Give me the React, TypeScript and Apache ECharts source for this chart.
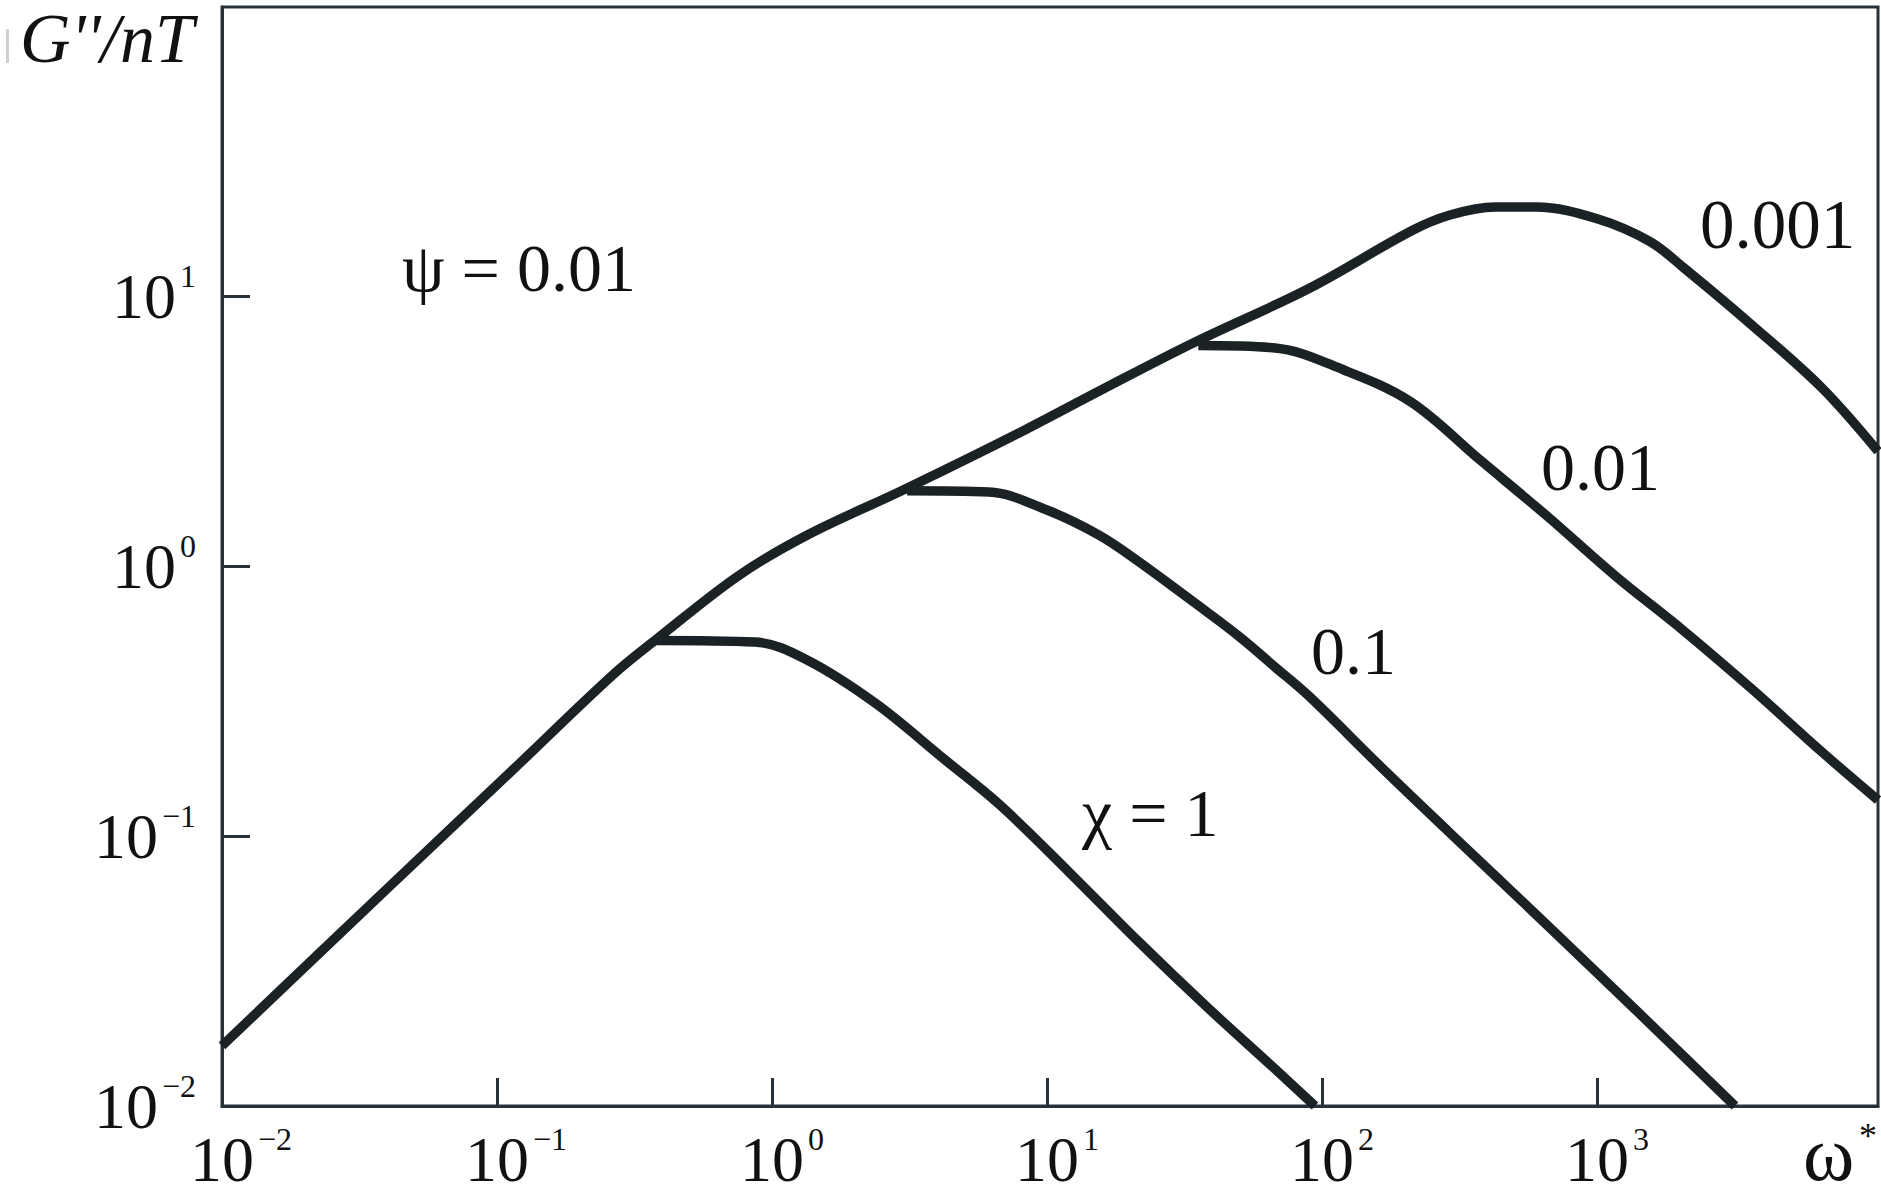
import React, { useEffect, useRef } from 'react';
import * as echarts from 'echarts';

// ---- data (omega*, G''/nT) ----
// envelope + chi = 0.001 curve
const omegaChi0001 = [0.01, 0.0398, 0.119, 0.266, 0.385, 0.752, 1.34, 3.0, 7.52, 16.0, 34.0, 90.4, 211, 292, 426, 600, 1008, 1559, 2072, 3693, 6579, 10515];
const gChi0001 = [0.0167, 0.0637, 0.183, 0.398, 0.541, 0.918, 1.3, 1.912, 3.03, 4.524, 6.697, 10.71, 17.41, 19.95, 21.36, 21.36, 19.28, 15.9, 12.7, 7.74, 4.564, 2.66];

// chi = 0.01 branch
const omegaChi001 = [35.5, 67.5, 120.2, 210.7, 375.5, 658, 1168, 2072, 3693, 6579, 10515];
const gChi001 = [6.55, 6.418, 5.319, 4.05, 2.47, 1.532, 0.918, 0.5743, 0.3473, 0.2047, 0.1359];

// chi = 0.1 branch
const omegaChi01 = [3.1, 6.153, 10.0, 15.46, 21.42, 38.18, 50.75, 67.5, 90.4, 161.2, 287.2, 658, 1433, 3176];
const gChi01 = [1.9, 1.879, 1.612, 1.302, 1.043, 0.6756, 0.5412, 0.4225, 0.3271, 0.1832, 0.1043, 0.04682, 0.02191, 0.01];

// chi = 1 branch
const omegaChi1 = [0.38, 0.867, 1.341, 2.369, 4.222, 6.747, 12.02, 21.42, 38.18, 67.5, 94.3];
const gChi1 = [0.53, 0.523, 0.4487, 0.311, 0.1928, 0.1302, 0.07356, 0.04084, 0.02326, 0.01371, 0.01];

const curveLabels = ['0.001', '0.01', '0.1', 'χ = 1'];
const paramLabel = 'ψ = 0.01';
const yAxisTitle = "G''/nT";
const xAxisTitle = 'ω';

// plotted ranges (frame) and labelled tick ranges
const X_MIN = 0.01;
const X_MAX = 10515;
const Y_MIN = 0.01;
const Y_MAX = 117.6;
const X_TICK_MAX = 1000;
const Y_TICK_MAX = 10;

const FONT = '"Liberation Serif", "Times New Roman", serif';
const INK = '#111111';
const AXIS = '#263238';
const LINE = '#1b2225';

const zip = (xs: number[], ys: number[]) => xs.map((x, i) => [x, ys[i]]);

function powerExp(v: number): number | null {
  const l = Math.log10(v);
  const k = Math.round(l);
  return Math.abs(l - k) < 1e-6 ? k : null;
}
const expText = (k: number) => (k < 0 ? '\u2212' + -k : String(k));

const baseRich = {
  b: { fontSize: 64, fontFamily: FONT, color: INK, lineHeight: 64, height: 64 },
  s: {
    fontSize: 32,
    fontFamily: FONT,
    color: INK,
    verticalAlign: 'top',
    height: 24,
    lineHeight: 24,
    padding: [0, 0, 0, 4],
  },
};

const tickStyle = { show: true, inside: true, length: 28, lineStyle: { color: AXIS, width: 3 } };

export default function App() {
  const ref = useRef<HTMLDivElement>(null);

  useEffect(() => {
    if (!ref.current) return;
    const chart = echarts.init(ref.current, null, { renderer: 'svg' });

    const lineSeries = (name: string, xs: number[], ys: number[]) => ({
      name,
      type: 'line',
      xAxisIndex: 0,
      yAxisIndex: 0,
      data: zip(xs, ys),
      symbol: 'none',
      smooth: 0.35,
      lineStyle: { width: 9.5, color: LINE, join: 'round', cap: 'butt' },
      silent: true,
    });

    const textEl = (text: string, x: number, y: number, font: string) => ({
      type: 'text',
      x,
      y,
      silent: true,
      style: {
        text,
        font,
        fill: INK,
        align: 'left',
        verticalAlign: 'middle',
        textAlign: 'left',
        textVerticalAlign: 'middle',
      },
    });

    const hiddenAxis = (gridIndex: number) => ({ gridIndex, type: 'value', show: false, min: 0, max: 1 });

    const option: any = {
      animation: false,
      backgroundColor: '#ffffff',
      grid: [
        // plotting frame
        {
          left: 222, top: 7, width: 1656, height: 1099,
          containLabel: false, outerBoundsMode: 'none',
          show: true, borderColor: AXIS, borderWidth: 3, backgroundColor: 'transparent',
        },
        // y ticks 10^-2 .. 10^1
        { left: 222, top: 296, width: 1656, height: 810, containLabel: false, outerBoundsMode: 'none', show: false },
        // x ticks 10^-2 .. 10^3
        { left: 222, top: 7, width: 1375, height: 1099, containLabel: false, outerBoundsMode: 'none', show: false },
      ],
      xAxis: [
        {
          gridIndex: 0,
          type: 'log',
          logBase: 10,
          min: X_MIN,
          max: X_MAX,
          axisLine: { show: true, lineStyle: { color: AXIS, width: 3 } },
          axisTick: { show: false },
          axisLabel: { show: false },
          splitLine: { show: false },
        },
        hiddenAxis(1),
        {
          gridIndex: 2,
          type: 'log',
          logBase: 10,
          min: X_MIN,
          max: X_TICK_MAX,
          axisLine: { show: false },
          axisTick: tickStyle,
          splitLine: { show: false },
          axisLabel: {
            margin: 21,
            formatter: (v: number) => {
              const k = powerExp(v);
              if (k === null) return '';
              const e = expText(k);
              return `{p${e.length}| }{b|10}{s|${e}}`;
            },
            rich: {
              ...baseRich,
              p1: { width: 20, fontSize: 32, fontFamily: FONT },
              p2: { width: 38, fontSize: 32, fontFamily: FONT },
            },
          },
        },
      ],
      yAxis: [
        {
          gridIndex: 0,
          type: 'log',
          logBase: 10,
          min: Y_MIN,
          max: Y_MAX,
          axisLine: { show: true, lineStyle: { color: AXIS, width: 3 } },
          axisTick: { show: false },
          axisLabel: { show: false },
          splitLine: { show: false },
        },
        {
          gridIndex: 1,
          type: 'log',
          logBase: 10,
          min: Y_MIN,
          max: Y_TICK_MAX,
          axisLine: { show: false },
          axisTick: tickStyle,
          splitLine: { show: false },
          axisLabel: {
            margin: 26,
            formatter: (v: number) => {
              const k = powerExp(v);
              if (k === null) return '';
              return `{b|10}{s|${expText(k)}}`;
            },
            rich: baseRich,
          },
        },
        hiddenAxis(2),
      ],
      series: [
        lineSeries('0.001', omegaChi0001, gChi0001),
        lineSeries('0.01', omegaChi001, gChi001),
        lineSeries('0.1', omegaChi01, gChi01),
        lineSeries('1', omegaChi1, gChi1),
      ],
      graphic: [
        { type: 'rect', shape: { x: 6, y: 29, width: 3, height: 34 }, style: { fill: '#cfcfcf' }, silent: true },
        textEl(yAxisTitle, 20, 38, `italic 70px ${FONT}`),
        textEl(paramLabel, 402, 268, `68px ${FONT}`),
        textEl(curveLabels[0], 1700, 225, `69px ${FONT}`),
        textEl(curveLabels[1], 1541, 467, `68px ${FONT}`),
        textEl(curveLabels[2], 1311, 651, `68px ${FONT}`),
        textEl(curveLabels[3], 1082, 813, `68px ${FONT}`),
        textEl(xAxisTitle, 1803, 1153, `78px ${FONT}`),
        textEl('*', 1859, 1136, `36px ${FONT}`),
      ],
    };

    chart.setOption(option);
    return () => chart.dispose();
  }, []);

  return (
    <div
      ref={ref}
      style={{ position: 'fixed', left: 0, top: 0, width: 1881, height: 1197, background: '#ffffff' }}
    />
  );
}
